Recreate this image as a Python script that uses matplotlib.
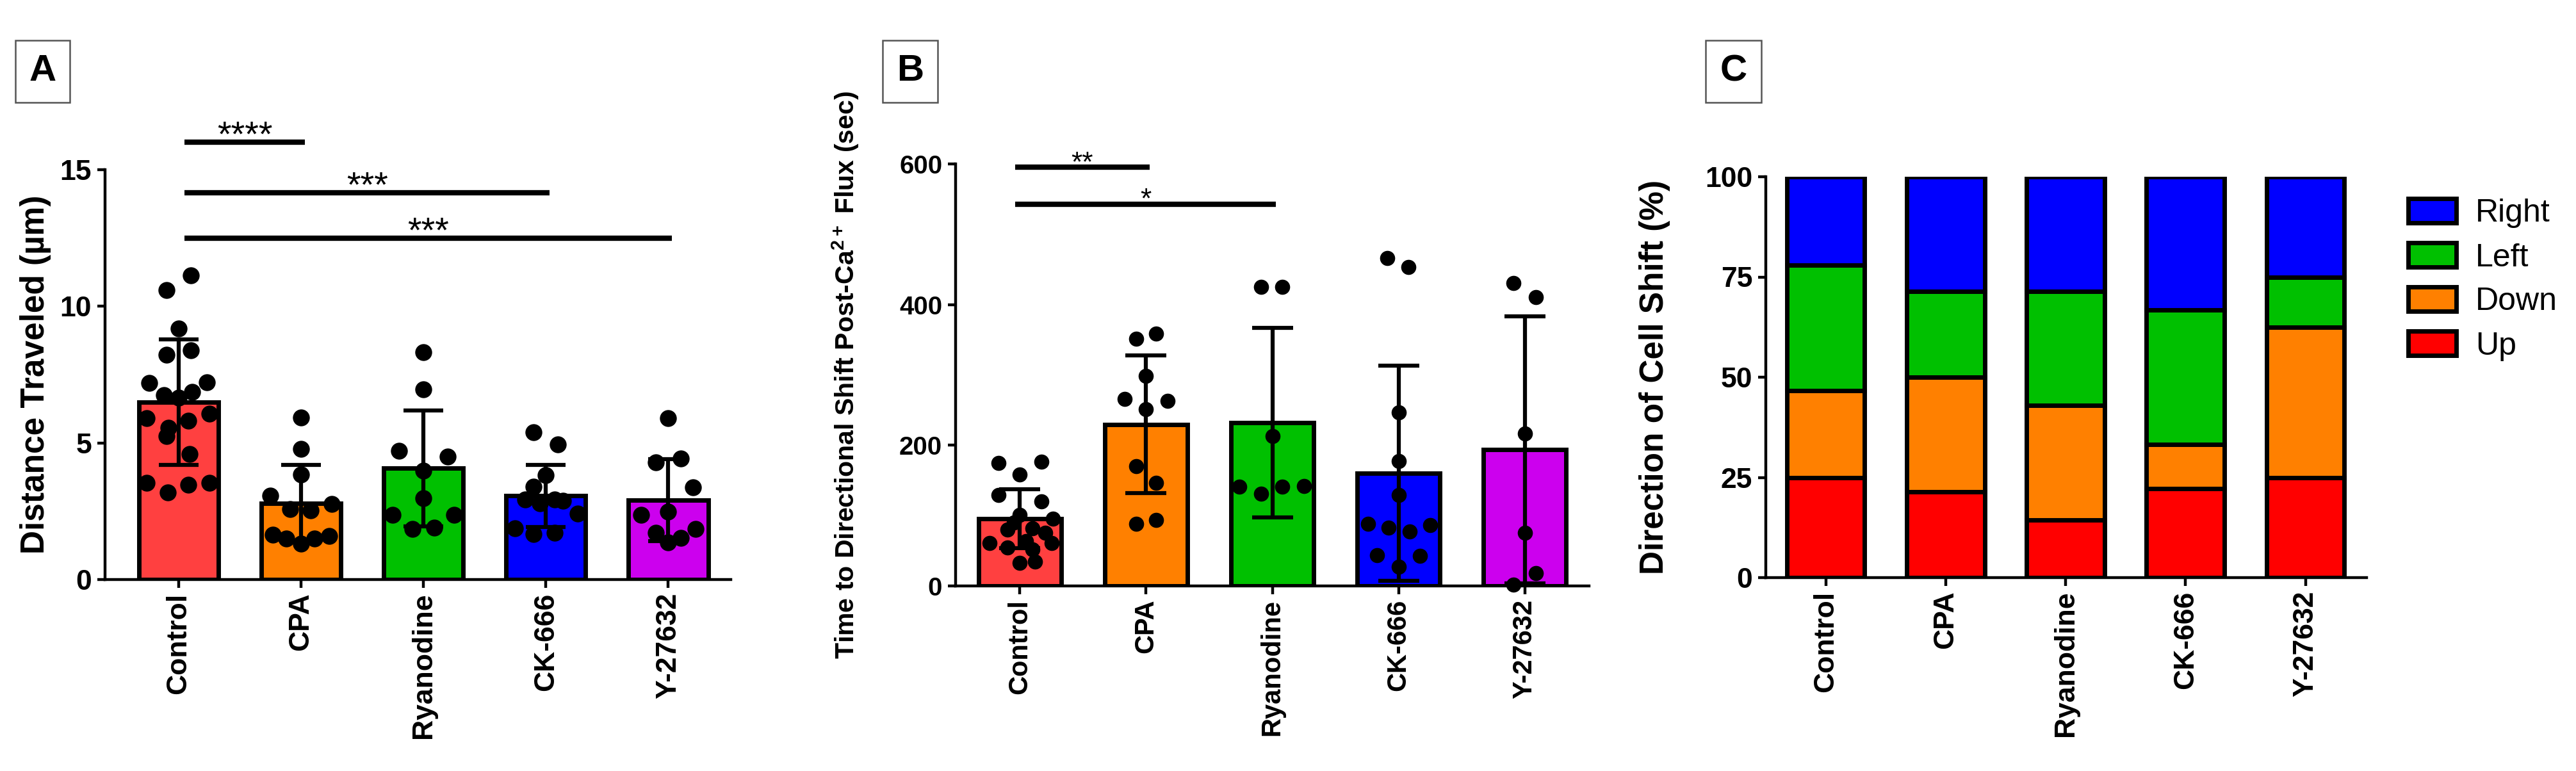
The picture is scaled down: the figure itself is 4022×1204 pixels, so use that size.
import matplotlib
matplotlib.use("Agg")
import matplotlib.pyplot as plt
from matplotlib.patches import Rectangle
import numpy as np

plt.rcParams['font.family'] = ['Liberation Sans', 'DejaVu Sans']
plt.rcParams['font.weight'] = 'bold'
plt.rcParams['mathtext.fontset'] = 'custom'
plt.rcParams['mathtext.rm'] = 'Liberation Sans:bold'
plt.rcParams['mathtext.bf'] = 'Liberation Sans:bold'
plt.rcParams['mathtext.default'] = 'bf'

groups = ['Control', 'CPA', 'Ryanodine', 'CK-666', 'Y-27632']
bar_colors = ['#FF4040', '#FF8000', '#00C000', '#0000FF', '#CC00EE']

# panel A: distance traveled (um)
dist_mean = [6.5, 2.8, 4.07, 3.06, 2.9]
dist_sd = [2.3, 1.4, 2.12, 1.14, 1.5]
dist_pts = [
    [11.13, 10.59, 9.19, 8.22, 8.40, 7.2, 7.22, 6.74, 6.87, 6.65, 5.9, 5.82, 6.08, 5.56, 5.25, 4.59, 3.54, 3.19, 3.46, 3.54],
    [5.92, 4.79, 3.85, 3.06, 2.58, 2.54, 2.76, 1.64, 1.49, 1.31, 1.51, 1.6],
    [8.31, 6.96, 4.7, 4.5, 3.98, 2.97, 2.36, 2.36, 1.84, 1.9],
    [5.38, 4.94, 3.81, 3.41, 2.93, 2.8, 2.93, 2.89, 2.41, 1.88, 1.66, 1.71],
    [5.91, 4.29, 4.42, 3.37, 2.36, 2.49, 1.71, 1.53, 1.36, 1.84],
]
dist_jit = [
    [0.1, -0.1, 0.0, -0.1, 0.1, -0.24, 0.23, -0.12, 0.11, 0.0, -0.26, 0.08, 0.25, -0.08, -0.1, 0.09, -0.26, -0.09, 0.08, 0.25],
    [0.0, 0.0, 0.0, -0.25, -0.09, 0.08, 0.25, -0.23, -0.12, 0.0, 0.11, 0.23],
    [0.0, 0.0, -0.2, 0.2, 0.0, 0.0, -0.25, 0.25, -0.09, 0.09],
    [-0.1, 0.1, 0.0, -0.1, -0.17, -0.05, 0.07, 0.14, 0.26, -0.25, -0.1, 0.07],
    [0.0, -0.1, 0.1, 0.2, -0.22, 0.0, -0.1, 0.1, 0.0, 0.22],
]
dist_sig = [(1, 16.0, '****'), (3, 14.15, '***'), (4, 12.5, '***')]

# panel B: time to directional shift (sec)
time_mean = [95.7, 229.8, 232, 160.6, 193.5]
time_sd = [42, 98, 135, 153, 190]
time_pts = [
    [175, 177, 158, 129, 120, 101, 96, 90, 82, 80, 76, 61, 61, 64, 55, 52, 35, 33],
    [351, 359, 299, 266, 263, 251, 170, 147, 88, 94],
    [425, 425, 213, 141, 131, 141, 142],
    [466, 453, 246.5, 177.9, 129, 88.6, 83, 77.5, 86.7, 43.5, 42.4, 27.7],
    [431, 411, 217, 75.6, 18.4, 1.8],
]
time_jit = [
    [-0.17, 0.17, 0.0, -0.17, 0.17, 0.0, 0.26, -0.05, 0.1, -0.1, 0.2, -0.24, 0.25, 0.05, -0.1, 0.1, 0.12, 0.0],
    [-0.08, 0.08, 0.0, -0.17, 0.17, 0.0, -0.08, 0.08, -0.08, 0.08],
    [-0.09, 0.08, 0.0, -0.26, -0.09, 0.08, 0.25],
    [-0.09, 0.08, 0.0, 0.0, 0.0, -0.24, -0.08, 0.09, 0.25, -0.17, 0.17, 0.0],
    [-0.09, 0.09, 0.0, 0.0, 0.09, -0.09],
]
time_sig = [(1, 595, '**'), (2, 543, '*')]

# panel C: direction of cell shift (%)
directions = ['Up', 'Down', 'Left', 'Right']
dir_colors = ['#FF0000', '#FF8000', '#00C000', '#0000FF']
up_pct = [25.0, 21.4, 14.3, 22.2, 25.0]
down_pct = [21.6, 28.6, 28.6, 11.1, 37.5]
left_pct = [31.3, 21.4, 28.5, 33.4, 12.5]
right_pct = [22.1, 28.6, 28.6, 33.3, 25.0]

W, H = 4023, 1204
fig = plt.figure(figsize=(W / 100, H / 100), dpi=100)


def px_axes(l, r, t, b):
    return fig.add_axes([l / W, 1 - b / H, (r - l) / W, (b - t) / H])


def style(ax, tick_fs):
    for s in ['top', 'right']:
        ax.spines[s].set_visible(False)
    for s in ['left', 'bottom']:
        ax.spines[s].set_linewidth(3.2)
    ax.tick_params(axis='both', width=3.2, length=9, pad=6, labelsize=tick_fs)
    ax.set_xticks(range(len(groups)))
    ax.set_xticklabels(groups, rotation=90)


def bar_scatter(ax, means, sds, pts, jit, ms, cap):
    x = np.arange(len(groups))
    ax.bar(x, means, width=0.65, color=bar_colors, edgecolor='black', linewidth=5, zorder=2)
    ax.errorbar(x, means, yerr=sds, fmt='none', ecolor='black', elinewidth=4.5,
                capsize=cap, capthick=4.5, zorder=3)
    for i in range(len(groups)):
        ax.scatter(i + np.array(jit[i]), pts[i], s=ms ** 2, color='black',
                   zorder=4, clip_on=False, linewidths=0)


def sig_lines(ax, sig, x0, fs):
    for j, y, txt in sig:
        ax.plot([x0, j + 0.03], [y, y], color='black', lw=6, clip_on=False,
                solid_capstyle='butt')
        ax.annotate(txt, xy=((x0 + j + 0.03) / 2, y), xytext=(0, -4),
                    textcoords='offset points', ha='center', va='baseline',
                    fontsize=fs, fontweight='normal', annotation_clip=False)


def panel_label(l, r, t, b, letter):
    fig.patches.append(Rectangle((l / W, 1 - b / H), (r - l) / W, (b - t) / H,
                                 transform=fig.transFigure, fill=False,
                                 edgecolor='#555555', linewidth=1.8))
    fig.text((l + r) / 2 / W, 1 - (t + b) / 2 / H, letter, ha='center', va='center',
             fontsize=42, fontweight='bold')


# Panel A
axA = px_axes(164, 1141, 265, 905)
bar_scatter(axA, dist_mean, dist_sd, dist_pts, dist_jit, 19, 22)
axA.set_xlim(-0.6, 4.51)
axA.set_ylim(0, 15)
axA.set_yticks([0, 5, 10, 15])
style(axA, 32)
sig_lines(axA, dist_sig, 0.05, 40)
fig.text(56 / W, 1 - 585 / H, 'Distance Traveled (µm)', rotation=90,
         ha='center', va='center', fontsize=37)

# Panel B
axB = px_axes(1492, 2481, 256, 915)
bar_scatter(axB, time_mean, time_sd, time_pts, time_jit, 17, 23)
axB.set_xlim(-0.51, 4.51)
axB.set_ylim(0, 600)
axB.set_yticks([0, 200, 400, 600])
style(axB, 29)
axB.tick_params(axis='x', labelsize=30)
sig_lines(axB, time_sig, -0.04, 32)
fig.text(1320 / W, 1 - 586 / H, r'Time to Directional Shift Post-Ca$^{2+}$ Flux (sec)',
         rotation=90, ha='center', va='center', fontsize=29.5)

# Panel C
axC = px_axes(2757, 3695, 276, 902)
x = np.arange(len(groups))
bottom = np.zeros(len(groups))
handles = []
for vals, col, name in zip([up_pct, down_pct, left_pct, right_pct], dir_colors, directions):
    h = axC.bar(x, vals, bottom=bottom, width=0.65, color=col, edgecolor='black',
                linewidth=5, label=name, zorder=2)
    handles.append(h)
    bottom = bottom + np.array(vals)
axC.set_xlim(-0.5, 4.51)
axC.set_ylim(0, 100)
axC.set_yticks([0, 25, 50, 75, 100])
style(axC, 32)
fig.text(2584 / W, 1 - 589 / H, 'Direction of Cell Shift (%)', rotation=90,
         ha='center', va='center', fontsize=37)
leg = axC.legend(handles[::-1], directions[::-1], loc='upper left',
                 bbox_to_anchor=(3735 / W, 1 - 285 / H), bbox_transform=fig.transFigure,
                 frameon=False, prop={'size': 36, 'weight': 'normal'},
                 handlelength=1.5, handleheight=0.8, handletextpad=0.6,
                 labelspacing=0.45, borderpad=0)

panel_label(24, 109, 63, 160, 'A')
panel_label(1378, 1464, 63, 160, 'B')
panel_label(2663, 2750, 63, 160, 'C')

fig.savefig('out.png', dpi=100)
